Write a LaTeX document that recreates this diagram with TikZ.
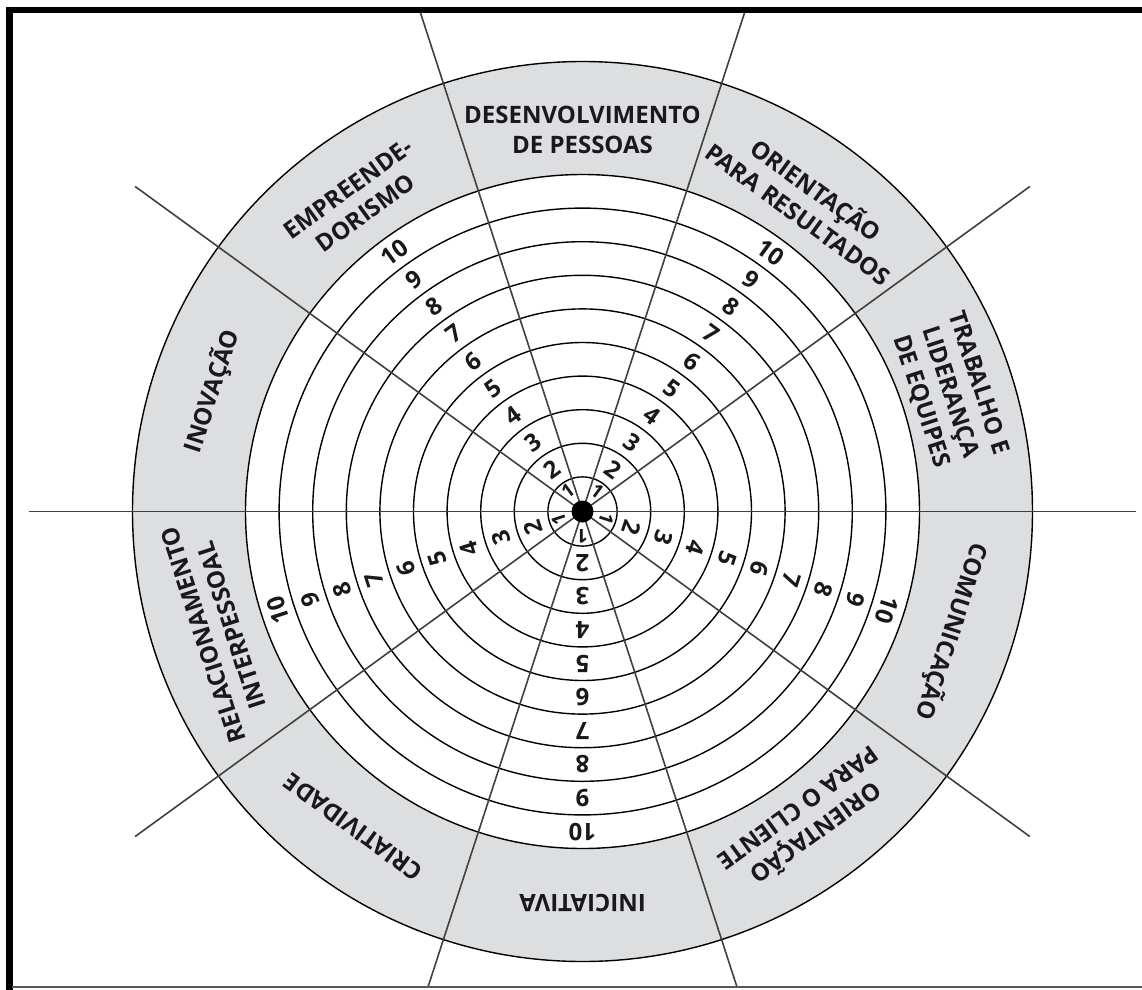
\documentclass[tikz,border=0pt]{standalone}
\usepackage{fontspec}
\setmainfont{Open Sans}
\definecolor{band}{RGB}{221,222,223}
\definecolor{ink}{RGB}{25,25,28}
\begin{document}
\begin{tikzpicture}[x=1pt,y=1pt,
  ringline/.style={line width=1.4pt, draw=black},
  spoke/.style={line width=1.6pt, draw=black!75},
  lbl/.style={font=\bfseries\fontsize{24}{30}\selectfont, align=center, text=ink, inner sep=0pt},
  num/.style={font=\bfseries\fontsize{24}{24}\selectfont, text=ink, inner sep=0pt}]
\useasboundingbox (-582.5,-477.5) rectangle (559.5,511.5);
\fill[white] (-582.5,-477.5) rectangle (559.5,511.5);
% wheel background
\fill[band] (0,0) circle (450);
\fill[white] (0,0) circle (337);
\foreach \k in {1,...,10} \draw[ringline] (0,0) circle ({33.6*\k+1});
\draw[ringline] (0,0) circle (450);
% spokes
\begin{scope}
\clip (-570,-474) rectangle (560,498);
\foreach \a in {0,36,...,324} \draw[spoke] (0,0) -- (\a:553);
\end{scope}
\fill[black] (0,0) circle (11);
% frame
\draw[line width=6.5pt, line join=miter] (-573.2,-478) -- (-573.2,501.5) -- (560,501.5);
\draw[line width=2pt, black!65] (-570,-475.2) -- (560,-475.2);
% sector labels
\node[lbl, rotate=0]    (l90)  at (90:382)  {DESENVOLVIMENTO\\DE PESSOAS};
\node[lbl, rotate=-36]  (l54)  at (54:384)  {ORIENTAÇÃO\\PARA RESULTADOS};
\node[lbl, rotate=-72]  (l18)  at (18:386)  {TRABALHO E\\LIDERANÇA\\DE EQUIPES};
\node[lbl, rotate=-108] (l342) at (342:388) {COMUNICAÇÃO};
\node[lbl, rotate=-144] (l306) at (306:384) {ORIENTAÇÃO\\PARA O CLIENTE};
\node[lbl, rotate=180]  (l270) at (270:392) {INICIATIVA};
\node[lbl, rotate=144]  (l234) at (234:390) {CRIATIVIDADE};
\node[lbl, rotate=108]  (l198) at (198:384) {RELACIONAMENTO\\INTERPESSOAL};
\node[lbl, rotate=72]   (l162) at (162:390) {INOVAÇÃO};
\node[lbl, rotate=36]   (l126) at (126:384) {EMPREENDE-\\DORISMO};
% scale numbers
\foreach \a in {54,126,198,270,342} {
  \node[num, rotate=\a-90, font=\bfseries\fontsize{19}{19}\selectfont] (n\a-1) at (\a:25) {1};
  \foreach \k in {2,...,10}
    \node[num, rotate=\a-90] (n\a-\k) at (\a:{33.6*\k-15.8}) {\k};
}
\end{tikzpicture}
\end{document}
